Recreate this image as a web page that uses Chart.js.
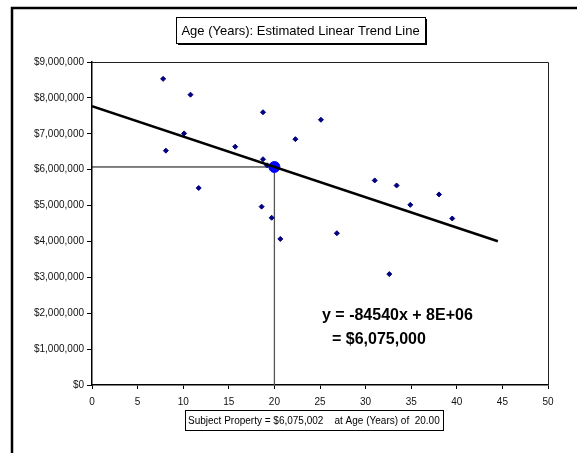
<!DOCTYPE html>
<html>
<head>
<meta charset="utf-8">
<script src="https://cdn.jsdelivr.net/npm/chart.js@4"></script>
<style>
  html, body { margin: 0; padding: 0; background: #fff; }
  #wrap { width: 577px; height: 453px; position: relative; }
</style>
</head>
<body>
<div id="wrap"><canvas id="c" width="577" height="453"></canvas></div>
<script>
// ---- data ----
const chartTitle = "Age (Years): Estimated Linear Trend Line";
const ages   = [7.8, 10.8, 18.75, 25.1, 10.1, 22.3, 8.1, 15.7, 18.75, 19.2, 11.7, 18.6, 19.7, 20.65, 31.0, 33.4, 38.05, 34.9, 39.5, 26.85, 32.6];
const prices = [8530000, 8090000, 7600000, 7390000, 7010000, 6850000, 6530000, 6640000, 6290000, 6120000, 5490000, 4970000, 4660000, 4070000, 5700000, 5560000, 5310000, 5020000, 4640000, 4230000, 3090000];
const trendX = [0, 44.5];
const trendY = [7765802, 4003772];
const subjectAge = 20;
const subjectValue = 6075002;
const xTicks = [0, 5, 10, 15, 20, 25, 30, 35, 40, 45, 50];
const yTicks = [0, 1000000, 2000000, 3000000, 4000000, 5000000, 6000000, 7000000, 8000000, 9000000];
const equationLines = ["y = -84540x + 8E+06", "= $6,075,000"];
const subjectLabel = "Subject Property = $6,075,002    at Age (Years) of  20.00";

const FONT = "Arial, 'Liberation Sans', sans-serif";

const decor = {
  id: 'decor',
  beforeDraw(chart) {
    const ctx = chart.ctx;
    ctx.save();
    ctx.fillStyle = '#fff';
    ctx.fillRect(0, 0, chart.width, chart.height);
    ctx.restore();
  },
  afterDraw(chart) {
    const ctx = chart.ctx;
    const a = chart.chartArea;
    ctx.save();
    // outer frame (left + top only visible)
    ctx.strokeStyle = '#000';
    ctx.lineWidth = 2.5;
    ctx.beginPath();
    ctx.moveTo(12, 460);
    ctx.lineTo(12, 8);
    ctx.lineTo(590, 8);
    ctx.stroke();
    // plot frame top/right
    ctx.lineWidth = 1;
    ctx.strokeStyle = '#222';
    ctx.beginPath();
    ctx.moveTo(a.left, a.top + 0.5);
    ctx.lineTo(a.right + 0.5, a.top + 0.5);
    ctx.lineTo(a.right + 0.5, a.bottom);
    ctx.stroke();

    // title box with shadow
    const tb = {x: 176, y: 17, w: 249, h: 26};
    ctx.fillStyle = '#000';
    ctx.fillRect(tb.x + 2, tb.y + 2, tb.w, tb.h);
    ctx.fillStyle = '#fff';
    ctx.fillRect(tb.x, tb.y, tb.w, tb.h);
    ctx.strokeStyle = '#000';
    ctx.lineWidth = 1;
    ctx.strokeRect(tb.x + 0.5, tb.y + 0.5, tb.w, tb.h);
    ctx.fillStyle = '#000';
    ctx.font = '13px ' + FONT;
    ctx.textAlign = 'center';
    ctx.textBaseline = 'middle';
    ctx.fillText(chartTitle, tb.x + tb.w / 2, tb.y + tb.h / 2 + 1);

    // equation text
    ctx.font = 'bold 16px ' + FONT;
    ctx.textAlign = 'left';
    ctx.fillText(equationLines[0], 322, 316);
    ctx.fillText(equationLines[1], 332, 340);

    // subject property box
    const sb = {x: 185, y: 410, w: 258, h: 20};
    ctx.fillStyle = '#000';
    ctx.fillRect(sb.x + 1, sb.y + 1, sb.w, sb.h);
    ctx.fillStyle = '#fff';
    ctx.fillRect(sb.x, sb.y, sb.w, sb.h);
    ctx.strokeStyle = '#000';
    ctx.strokeRect(sb.x + 0.5, sb.y + 0.5, sb.w, sb.h);
    ctx.fillStyle = '#000';
    ctx.font = '10px ' + FONT;
    ctx.textAlign = 'left';
    ctx.fillText(subjectLabel, sb.x + 3, sb.y + sb.h / 2 + 1);
    ctx.restore();
  }
};

const points = ages.map((x, i) => ({x: x, y: prices[i]}));
const trend = trendX.map((x, i) => ({x: x, y: trendY[i]}));

new Chart(document.getElementById('c'), {
  type: 'scatter',
  data: {
    datasets: [
      {
        label: 'Trend',
        data: trend,
        showLine: true,
        borderColor: '#000',
        borderWidth: 2.5,
        pointRadius: 0,
        order: 0
      },
      {
        label: 'Subject',
        data: [{x: subjectAge, y: subjectValue}],
        backgroundColor: '#0000FF',
        borderColor: '#0000FF',
        pointRadius: 5.5,
        order: 1
      },
      {
        label: 'Comparables',
        data: points,
        pointStyle: 'rectRot',
        backgroundColor: '#000080',
        borderColor: '#000080',
        borderWidth: 1,
        pointRadius: 2.5,
        order: 2
      },
      {
        label: 'HGuide',
        data: [{x: 0, y: subjectValue}, {x: subjectAge, y: subjectValue}],
        showLine: true,
        borderColor: '#000',
        borderWidth: 1,
        pointRadius: 0,
        order: 3
      },
      {
        label: 'VGuide',
        data: [{x: subjectAge, y: 0}, {x: subjectAge, y: subjectValue}],
        showLine: true,
        borderColor: '#555',
        borderWidth: 1.3,
        pointRadius: 0,
        order: 3
      }
    ]
  },
  options: {
    responsive: false,
    animation: false,
    events: [],
    layout: { padding: { left: 0, right: 29, top: 62, bottom: 0 } },
    plugins: {
      legend: { display: false },
      title: { display: false },
      tooltip: { enabled: false }
    },
    scales: {
      x: {
        type: 'linear',
        min: 0, max: 50,
        afterBuildTicks(scale) { scale.ticks = xTicks.map(v => ({value: v})); },
        afterFit(scale) { scale.height = 68; },
        grid: { drawOnChartArea: false, drawTicks: true, tickLength: 4, color: '#000', tickWidth: 1 },
        border: { color: '#000', width: 1.5 },
        ticks: { color: '#111', font: { family: FONT, size: 10 }, padding: 7, maxRotation: 0, autoSkip: false }
      },
      y: {
        type: 'linear',
        min: 0, max: 9000000,
        afterBuildTicks(scale) { scale.ticks = yTicks.map(v => ({value: v})); },
        afterFit(scale) { scale.width = 92; },
        grid: { drawOnChartArea: false, drawTicks: true, tickLength: 5, color: '#000', tickWidth: 1 },
        border: { color: '#000', width: 1.5 },
        ticks: {
          color: '#111', font: { family: FONT, size: 10 }, padding: 3, autoSkip: false,
          callback: v => '$' + Number(v).toLocaleString('en-US')
        }
      }
    }
  },
  plugins: [decor]
});
</script>
</body>
</html>
